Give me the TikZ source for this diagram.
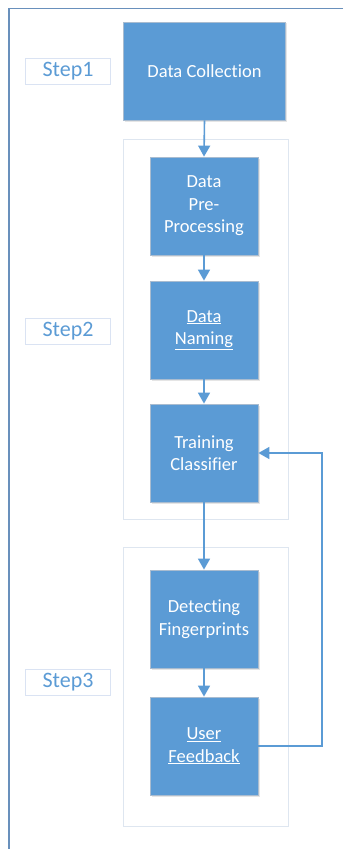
\documentclass[tikz,border=0pt]{standalone}
\usepackage{fontspec}
\setmainfont{Carlito}[RawFeature={-liga;-clig;-calt;-dlig}]
\usetikzlibrary{arrows.meta,shadows}
\definecolor{boxblue}{HTML}{5B9BD5}
\definecolor{frameblue}{HTML}{6990BC}
\definecolor{groupline}{HTML}{DEE6F0}
\definecolor{labelline}{HTML}{DAE3F3}
\definecolor{boxedge}{HTML}{A9BCD0}
\begin{document}
\begin{tikzpicture}[x=1bp,y=-1bp,
  procbox/.style={draw=boxedge,line width=0.8bp,fill=boxblue,text=white,
    minimum width=108bp,minimum height=98bp,inner sep=0pt,align=center,
    font=\fontsize{18.5bp}{22.5bp}\selectfont,
    drop shadow={shadow xshift=1.5bp,shadow yshift=-1.5bp,fill=black!25,opacity=0.4}},
  groupbox/.style={draw=groupline,line width=1bp,inner sep=0pt},
  steplabel/.style={draw=labelline,line width=1bp,text=boxblue,minimum width=84bp,
    minimum height=26bp,inner sep=0pt,font=\fontsize{22bp}{24bp}\selectfont},
  flow/.style={draw=boxblue,line width=1.6bp,-{Triangle[length=11bp,width=12bp]}}]
\useasboundingbox (0,0) rectangle (343,849);
\fill[white] (0,0) rectangle (343,849);
% outer frame
\draw[frameblue,line width=1.6bp] (343,8.5) -- (9,8.5) -- (9,849);
% group boxes
\node[groupbox,minimum width=165bp,minimum height=379bp] (g2) at (205.5,329.5) {};
\node[groupbox,minimum width=165bp,minimum height=279bp] (g3) at (205.5,686.5) {};
% step labels
\node[steplabel] (s1) at (68,71) {Step1};
\node[steplabel] (s2) at (68,331) {Step2};
\node[steplabel] (s3) at (68,682) {Step3};
% process boxes
\node[procbox,minimum width=162bp] (dc) at (204.5,71) {Data Collection};
\node[procbox] (pp) at (204,206) {Data\\Pre-\\Processing};
\node[procbox] (dn) at (204,330) {\underline{Data}\\\underline{Naming}};
\node[procbox] (tc) at (204,453) {Training\\Classifier};
\node[procbox] (df) at (204,619) {Detecting\\Fingerprints};
\node[procbox] (uf) at (204,746) {\underline{User}\\\underline{Feedback}};
% connectors
\draw[flow] (dc.south) -- (pp.north);
\draw[flow] (pp.south) -- (dn.north);
\draw[flow] (dn.south) -- (tc.north);
\draw[flow] (tc.south) -- (df.north);
\draw[flow] (df.south) -- (uf.north);
\coordinate (fbA) at (322,746);
\coordinate (fbB) at (322,453);
\draw[flow] (uf.east) -- (fbA) -- (fbB) -- (tc.east);
\end{tikzpicture}
\end{document}
